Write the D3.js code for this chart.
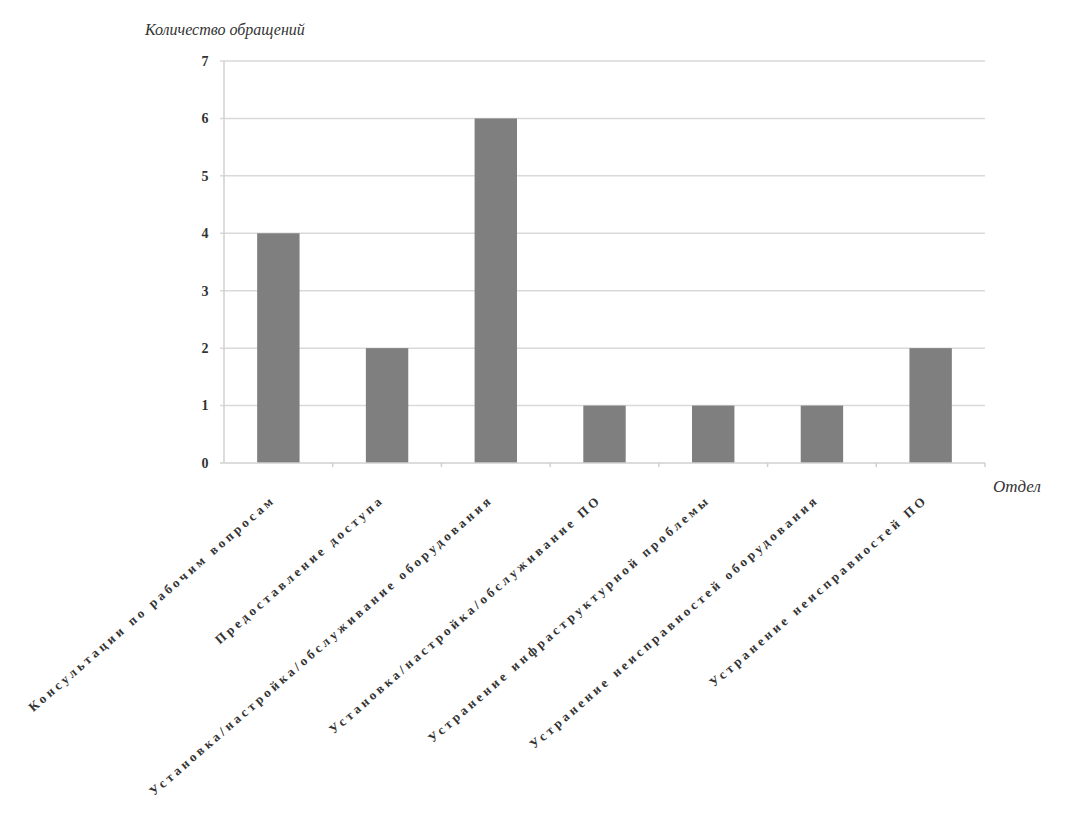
<!DOCTYPE html>
<html><head><meta charset="utf-8">
<script src="https://cdn.jsdelivr.net/npm/d3@7"></script>
<style>body{margin:0;background:#fff}</style>
</head><body>
<svg id="c" width="1070" height="817"></svg>
<script>
const categories = [
  "Консультации  по рабочим  вопросам",
  "Предоставление доступа",
  "Установка/настройка/обслуживание  оборудования",
  "Установка/настройка/обслуживание ПО",
  "Устранение инфраструктурной проблемы",
  "Устранение неисправностей оборудования",
  "Устранение неисправностей ПО"
];
const values = [4, 2, 6, 1, 1, 1, 2];
const yTicks = [0, 1, 2, 3, 4, 5, 6, 7];
const yTitle = "Количество обращений";
const xTitle = "Отдел";

const svg = d3.select("#c");
const L = 224, R = 985, T = 61, B = 463;
const x = d3.scaleBand().domain(categories).range([L, R]).paddingInner(0.61).paddingOuter(0.305);
const xb = d3.scaleBand().domain(categories).range([L, R]);
const y = d3.scaleLinear().domain([0, 7]).range([B, T]);

svg.append("g").selectAll("line").data(yTicks.filter(d => d > 0)).join("line")
  .attr("x1", L - 4).attr("x2", R).attr("y1", d => y(d)).attr("y2", d => y(d))
  .attr("stroke", "#d9d9d9").attr("stroke-width", 1.5);

svg.append("g").selectAll("rect").data(values).join("rect")
  .attr("x", (d, i) => x(categories[i])).attr("width", x.bandwidth())
  .attr("y", d => y(d)).attr("height", d => B - y(d))
  .attr("fill", "#7f7f7f");

svg.append("line").attr("x1", L).attr("x2", L).attr("y1", T).attr("y2", B)
  .attr("stroke", "#d0d0d0").attr("stroke-width", 1.5);
svg.append("line").attr("x1", L - 4).attr("x2", R).attr("y1", B).attr("y2", B)
  .attr("stroke", "#d0d0d0").attr("stroke-width", 1.5);
svg.append("g").selectAll("line").data(categories).join("line")
  .attr("x1", d => xb(d) + xb.bandwidth()).attr("x2", d => xb(d) + xb.bandwidth())
  .attr("y1", B).attr("y2", B + 4).attr("stroke", "#d0d0d0").attr("stroke-width", 1.5);

svg.append("g").selectAll("text").data(yTicks).join("text")
  .attr("x", 205).attr("y", d => y(d)).attr("dy", "0.35em")
  .attr("text-anchor", "middle")
  .attr("font-family", "Liberation Serif").attr("font-weight", "bold").attr("font-size", 14)
  .attr("fill", "#333").text(d => d);

svg.append("g").selectAll("text").data(categories).join("text")
  .attr("transform", d => `translate(${xb(d) + xb.bandwidth() / 2 - 2},${B + 38}) rotate(-41)`)
  .attr("text-anchor", "end")
  .attr("font-family", "Liberation Serif").attr("font-weight", "bold").attr("font-size", 13)
  .attr("letter-spacing", "3.4px")
  .attr("fill", "#333").text(d => d);

svg.append("text").attr("x", 145).attr("y", 35)
  .attr("font-family", "Liberation Serif").attr("font-style", "italic").attr("font-size", 16)
  .attr("fill", "#333").text(yTitle);
svg.append("text").attr("x", 993).attr("y", 492)
  .attr("font-family", "Liberation Serif").attr("font-style", "italic").attr("font-size", 17)
  .attr("fill", "#333").text(xTitle);
</script>
</body></html>
